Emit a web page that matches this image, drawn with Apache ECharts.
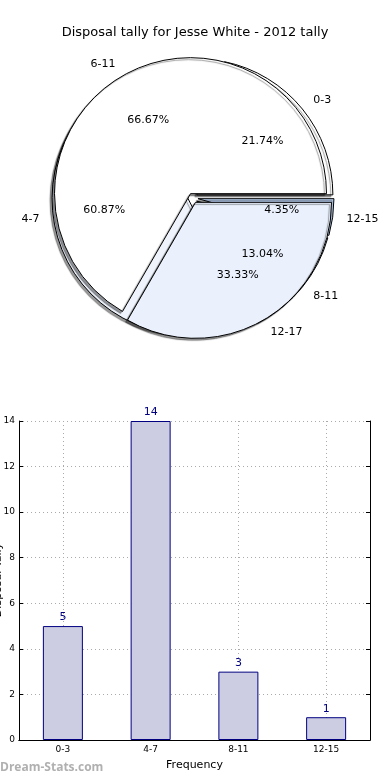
<!DOCTYPE html>
<html>
<head>
<meta charset="utf-8">
<script src="https://cdn.jsdelivr.net/npm/echarts@6/dist/echarts.min.js"></script>
<style>
html,body{margin:0;padding:0;background:#fff;}
#c{width:390px;height:780px;}
</style>
</head>
<body>
<div id="c"></div>
<script>
// ---- data ----
const titleText = 'Disposal tally for Jesse White - 2012 tally';
const tallyCats = ['0-3', '4-7', '8-11', '12-15'];
const tallyVals = [5, 14, 3, 1];
const pie1Colors = ['#ffffff', '#eef3fc', '#dde8f8', '#b9d1f2'];
const pie2Names = ['6-11', '12-17'];
const pie2Vals = [2, 1];
const pie2Colors = ['#ffffff', '#eaf1fd'];
const yTicks = [0, 2, 4, 6, 8, 10, 12, 14];
const xAxisName = 'Frequency';
const yAxisName = 'Disposal Tally';
const watermark = 'Dream-Stats.com';

const FONT = 'DejaVu Sans';
const C = [193, 198];
const R = 136;
const OFF = 5;

function pieData(names, vals, colors, fill) {
  return names.map((n, i) => ({
    name: n, value: vals[i], selected: true,
    itemStyle: fill ? { color: colors[i] } : { color: 'rgba(0,0,0,0)', borderWidth: 0 }
  }));
}

function fillSeries(names, vals, colors, z) {
  return {
    type: 'pie', center: C, radius: [0, R], startAngle: 0, clockwise: false,
    selectedMode: 'multiple', selectedOffset: OFF, z: z, silent: true,
    avoidLabelOverlap: false, animation: false,
    label: { show: false }, labelLine: { show: false },
    itemStyle: { borderColor: '#000', borderWidth: 1, shadowColor: 'rgba(0,0,0,0.4)', shadowBlur: 1, shadowOffsetX: -2, shadowOffsetY: 2 },
    emphasis: { disabled: true },
    data: pieData(names, vals, colors, true)
  };
}
function nameSeries(names, vals) {
  return {
    type: 'pie', center: C, radius: [0, R], startAngle: 0, clockwise: false,
    selectedMode: 'multiple', selectedOffset: OFF, z: 10, silent: true,
    avoidLabelOverlap: false, animation: false,
    label: { show: true, position: 'outside', formatter: '{b}', fontFamily: FONT, fontSize: 11, color: '#000', distanceToLabelLine: 0 },
    labelLine: { show: false, length: Math.round(R * 0.1), length2: 0 },
    itemStyle: { color: 'rgba(0,0,0,0)', borderWidth: 0 },
    emphasis: { disabled: true },
    data: pieData(names, vals, null, false)
  };
}
function pctSeries(names, vals) {
  return {
    type: 'pie', center: C, radius: [0, R * 1.2], startAngle: 0, clockwise: false,
    selectedMode: 'multiple', selectedOffset: OFF, z: 10, silent: true,
    avoidLabelOverlap: false, animation: false,
    label: { show: true, position: 'inside', formatter: '{d}%', fontFamily: FONT, fontSize: 11, color: '#000' },
    labelLine: { show: false },
    itemStyle: { color: 'rgba(0,0,0,0)', borderWidth: 0 },
    emphasis: { disabled: true },
    data: pieData(names, vals, null, false)
  };
}

const chart = echarts.init(document.getElementById('c'), null, { renderer: 'canvas' });
const axisTxt = { fontFamily: FONT, fontSize: 9, color: '#000' };
chart.setOption({
  animation: false,
  backgroundColor: '#fff',
  title: { text: titleText, left: 'center', top: 21, textStyle: { fontFamily: FONT, fontSize: 13, fontWeight: 'normal', color: '#000' } },
  graphic: [
    { type: 'text', left: 0, top: 762, silent: true, style: { text: watermark, fontFamily: 'Open Sans', fontSize: 12, fontWeight: 'bold', fill: '#b0b0b0' } },
    { type: 'text', x: -2, y: 580, rotation: Math.PI / 2, silent: true,
      style: { text: yAxisName, fontFamily: FONT, fontSize: 11, fill: '#000', align: 'center', verticalAlign: 'middle' } }
  ],
  grid: { left: 19, right: 20, top: 421, bottom: 40, containLabel: false, outerBoundsMode: 'none' },
  xAxis: [
    { type: 'category', data: tallyCats, position: 'bottom', boundaryGap: true,
      name: xAxisName, nameLocation: 'middle', nameGap: 20, nameTextStyle: { fontFamily: FONT, fontSize: 11, color: '#000' },
      axisLine: { lineStyle: { color: '#000', width: 1 } },
      axisTick: { inside: true, alignWithLabel: true, length: 4, lineStyle: { color: '#000' } },
      axisLabel: Object.assign({ margin: 5 }, axisTxt),
      splitLine: { show: true, alignWithLabel: true, lineStyle: { type: [1, 3], color: '#aaa' } } },
    { type: 'category', data: tallyCats, position: 'top', boundaryGap: true,
      axisLine: { lineStyle: { color: '#000', width: 1 } },
      axisTick: { inside: true, alignWithLabel: true, length: 4, lineStyle: { color: '#000' } },
      axisLabel: { show: false }, splitLine: { show: false } }
  ],
  yAxis: [
    { type: 'value', min: yTicks[0], max: yTicks[yTicks.length - 1], interval: yTicks[1] - yTicks[0],
      axisLine: { show: true, lineStyle: { color: '#000', width: 1 } },
      axisTick: { show: true, inside: true, length: 4, lineStyle: { color: '#000' } },
      axisLabel: Object.assign({ margin: 4 }, axisTxt),
      splitLine: { show: true, lineStyle: { type: [1, 3], color: '#aaa' } } },
    { type: 'value', min: yTicks[0], max: yTicks[yTicks.length - 1], interval: yTicks[1] - yTicks[0], position: 'right',
      axisLine: { show: true, lineStyle: { color: '#000', width: 1 } },
      axisTick: { show: true, inside: true, length: 4, lineStyle: { color: '#000' } },
      axisLabel: { show: false }, splitLine: { show: false } }
  ],
  series: [
    fillSeries(tallyCats, tallyVals, pie1Colors, 2),
    fillSeries(pie2Names, pie2Vals, pie2Colors, 3),
    nameSeries(tallyCats, tallyVals),
    pctSeries(tallyCats, tallyVals),
    nameSeries(pie2Names, pie2Vals),
    pctSeries(pie2Names, pie2Vals),
    { type: 'bar', xAxisIndex: 0, yAxisIndex: 0, data: tallyVals, barWidth: 40, z: 3,
      itemStyle: { color: '#ccccE2', borderColor: '#000080', borderWidth: 1 },
      label: { show: true, position: 'top', distance: 3, fontFamily: FONT, fontSize: 11, color: '#000080' },
      emphasis: { disabled: true } }
  ]
});
</script>
</body>
</html>
